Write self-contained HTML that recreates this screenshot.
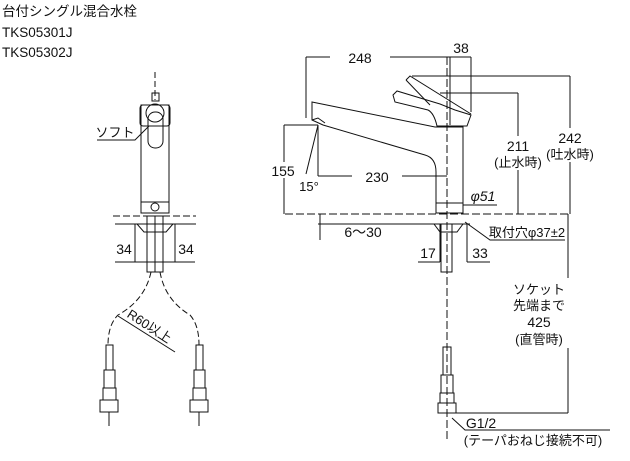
<!DOCTYPE html>
<html><head><meta charset="utf-8"><style>
body{margin:0;background:#fff}
svg{display:block}
text{font-family:"Liberation Sans","Noto Sans CJK JP",sans-serif;fill:#111}
</style></head><body>
<svg width="630" height="461" viewBox="0 0 630 461" xmlns="http://www.w3.org/2000/svg">
<g font-size="13.5">
<text x="2" y="16">台付シングル混合水栓</text>
<text x="2" y="37">TKS05301J</text>
<text x="2" y="57">TKS05302J</text>
</g>
<g fill="none" stroke="#111" stroke-width="1">
<!-- LEFT VIEW -->
<line x1="155" y1="72" x2="155" y2="100" stroke-dasharray="6,3"/>
<rect x="152" y="93" width="7" height="8"/>
<rect x="141" y="105" width="28" height="108"/>
<rect x="140" y="105" width="30" height="21" rx="3"/>
<circle cx="155" cy="113" r="9"/>
<rect x="148" y="112" width="15" height="36" rx="7"/>
<line x1="141" y1="202" x2="169" y2="202"/>
<circle cx="155" cy="207" r="4"/>
<line x1="113" y1="216" x2="196" y2="216" stroke-dasharray="7,3"/>
<line x1="115" y1="224" x2="196" y2="224"/>
<rect x="147" y="216" width="16" height="56"/>
<line x1="155" y1="216" x2="155" y2="272"/>
<path d="M137 224 L173 224 L166 232 L144 232 Z"/>
<line x1="135" y1="224" x2="135" y2="262"/>
<line x1="175" y1="224" x2="175" y2="262"/>
<line x1="115" y1="262" x2="195" y2="262"/>
<path d="M97 140 L135 140 L149 126"/>
<path d="M151 272 Q145 300 118 315 Q108 325 108 345" stroke-dasharray="6,3"/>
<path d="M160 272 Q165 300 190 315 Q199 325 199 345" stroke-dasharray="6,3"/>
<path d="M118 316 L175 352"/>
<rect x="106" y="345" width="7" height="25"/>
<rect x="104" y="370" width="11" height="18"/>
<rect x="103" y="388" width="13" height="12"/>
<rect x="100" y="400" width="18" height="12"/>
<line x1="109" y1="412" x2="109" y2="426"/>
<rect x="196" y="345" width="7" height="25"/>
<rect x="194" y="370" width="11" height="18"/>
<rect x="193" y="388" width="13" height="12"/>
<rect x="190" y="400" width="18" height="12"/>
<line x1="199" y1="412" x2="199" y2="426"/>
<!-- RIGHT VIEW -->
<line x1="447" y1="57" x2="447" y2="440" stroke-dasharray="8,3"/>
<path d="M312 102 L435 127 L463 127 L463 213 L436 213 L436 172 Q436 158 425 155 L323 125 L312 120 Z"/>
<path d="M312 120 L318 118 L325 123"/>
<path d="M393 95 L397 91 L440 104 L455 110 L471 115 L467 126 L437 126 Q434 113 428 110 L395 102 Z"/>
<path d="M406 80 L410 76 L471 114"/>
<line x1="406" y1="80" x2="430" y2="105"/>
<line x1="436" y1="203" x2="463" y2="203"/>
<line x1="285" y1="214" x2="570" y2="214" stroke-dasharray="8,3"/>
<line x1="318" y1="224" x2="470" y2="224"/>
<rect x="441" y="224" width="11" height="48"/>
<path d="M434 224 L463 224 L457 232 L440 232 Z"/>
<rect x="443" y="347" width="8" height="28"/>
<rect x="441" y="375" width="12" height="18"/>
<rect x="440" y="393" width="14" height="10"/>
<rect x="438" y="403" width="18" height="10"/>
<!-- dims -->
<line x1="306" y1="57" x2="471" y2="57"/>
<line x1="306" y1="57" x2="306" y2="118"/>
<line x1="450" y1="57" x2="450" y2="125"/>
<line x1="471" y1="57" x2="471" y2="112"/>
<line x1="412" y1="76" x2="570" y2="76"/>
<line x1="570" y1="76" x2="570" y2="214"/>
<line x1="440" y1="93" x2="518" y2="93"/>
<line x1="518" y1="93" x2="518" y2="214"/>
<line x1="284" y1="125" x2="318" y2="125"/>
<line x1="284" y1="125" x2="284" y2="214"/>
<line x1="318" y1="125" x2="318" y2="176"/>
<line x1="318" y1="125" x2="306" y2="174"/>
<line x1="318" y1="176" x2="447" y2="176"/>
<line x1="463" y1="205" x2="497" y2="205"/>
<line x1="320" y1="214" x2="320" y2="240"/>
<path d="M465 222 L490 240 L565 240"/>
<line x1="440" y1="224" x2="440" y2="262"/>
<line x1="467" y1="224" x2="467" y2="262"/>
<line x1="418" y1="262" x2="440" y2="262"/>
<line x1="467" y1="262" x2="490" y2="262"/>
<line x1="568" y1="214" x2="568" y2="413"/>
<line x1="455" y1="413" x2="568" y2="413"/>
<path d="M452 418 L465 430 L610 430"/>
</g>
<g fill="#fff">
<rect x="112" y="240" width="22" height="16"/><rect x="176" y="240" width="22" height="16"/>
<rect x="330" y="48" width="60" height="16"/>
<rect x="352" y="168" width="50" height="16"/>
<rect x="266" y="162" width="34" height="16"/>
<rect x="496" y="136" width="44" height="34"/>
<rect x="546" y="128" width="50" height="34"/>
<rect x="510" y="278" width="62" height="70"/>
</g>
<g font-size="14" text-anchor="middle">
<text x="124" y="254">34</text><text x="186" y="254">34</text>
<text x="115" y="137" font-size="13">ソフト</text>
<text x="360" y="63">248</text>
<text x="461" y="53">38</text>
<text x="377" y="182">230</text>
<text x="283" y="176">155</text>
<text x="309" y="191" font-size="13">15°</text>
<text x="518" y="151">211</text>
<text x="518" y="167" font-size="13">(止水時)</text>
<text x="570" y="143">242</text>
<text x="570" y="159" font-size="13">(吐水時)</text>
<text x="483" y="201" font-style="italic">φ51</text>
<text x="363" y="237">6〜30</text>
<text x="527" y="237" font-size="13">取付穴φ37±2</text>
<text x="428" y="258">17</text>
<text x="480" y="258">33</text>
<text x="539" y="294" font-size="13">ソケット</text>
<text x="539" y="310" font-size="13">先端まで</text>
<text x="539" y="327">425</text>
<text x="539" y="344" font-size="13">(直管時)</text>
<text x="481" y="428">G1/2</text>
<text x="533" y="445" font-size="13">(テーパおねじ接続不可)</text>
<text x="0" y="0" font-size="13" transform="translate(147,330) rotate(33)">R60以上</text>
</g>
</svg>
</body></html>
